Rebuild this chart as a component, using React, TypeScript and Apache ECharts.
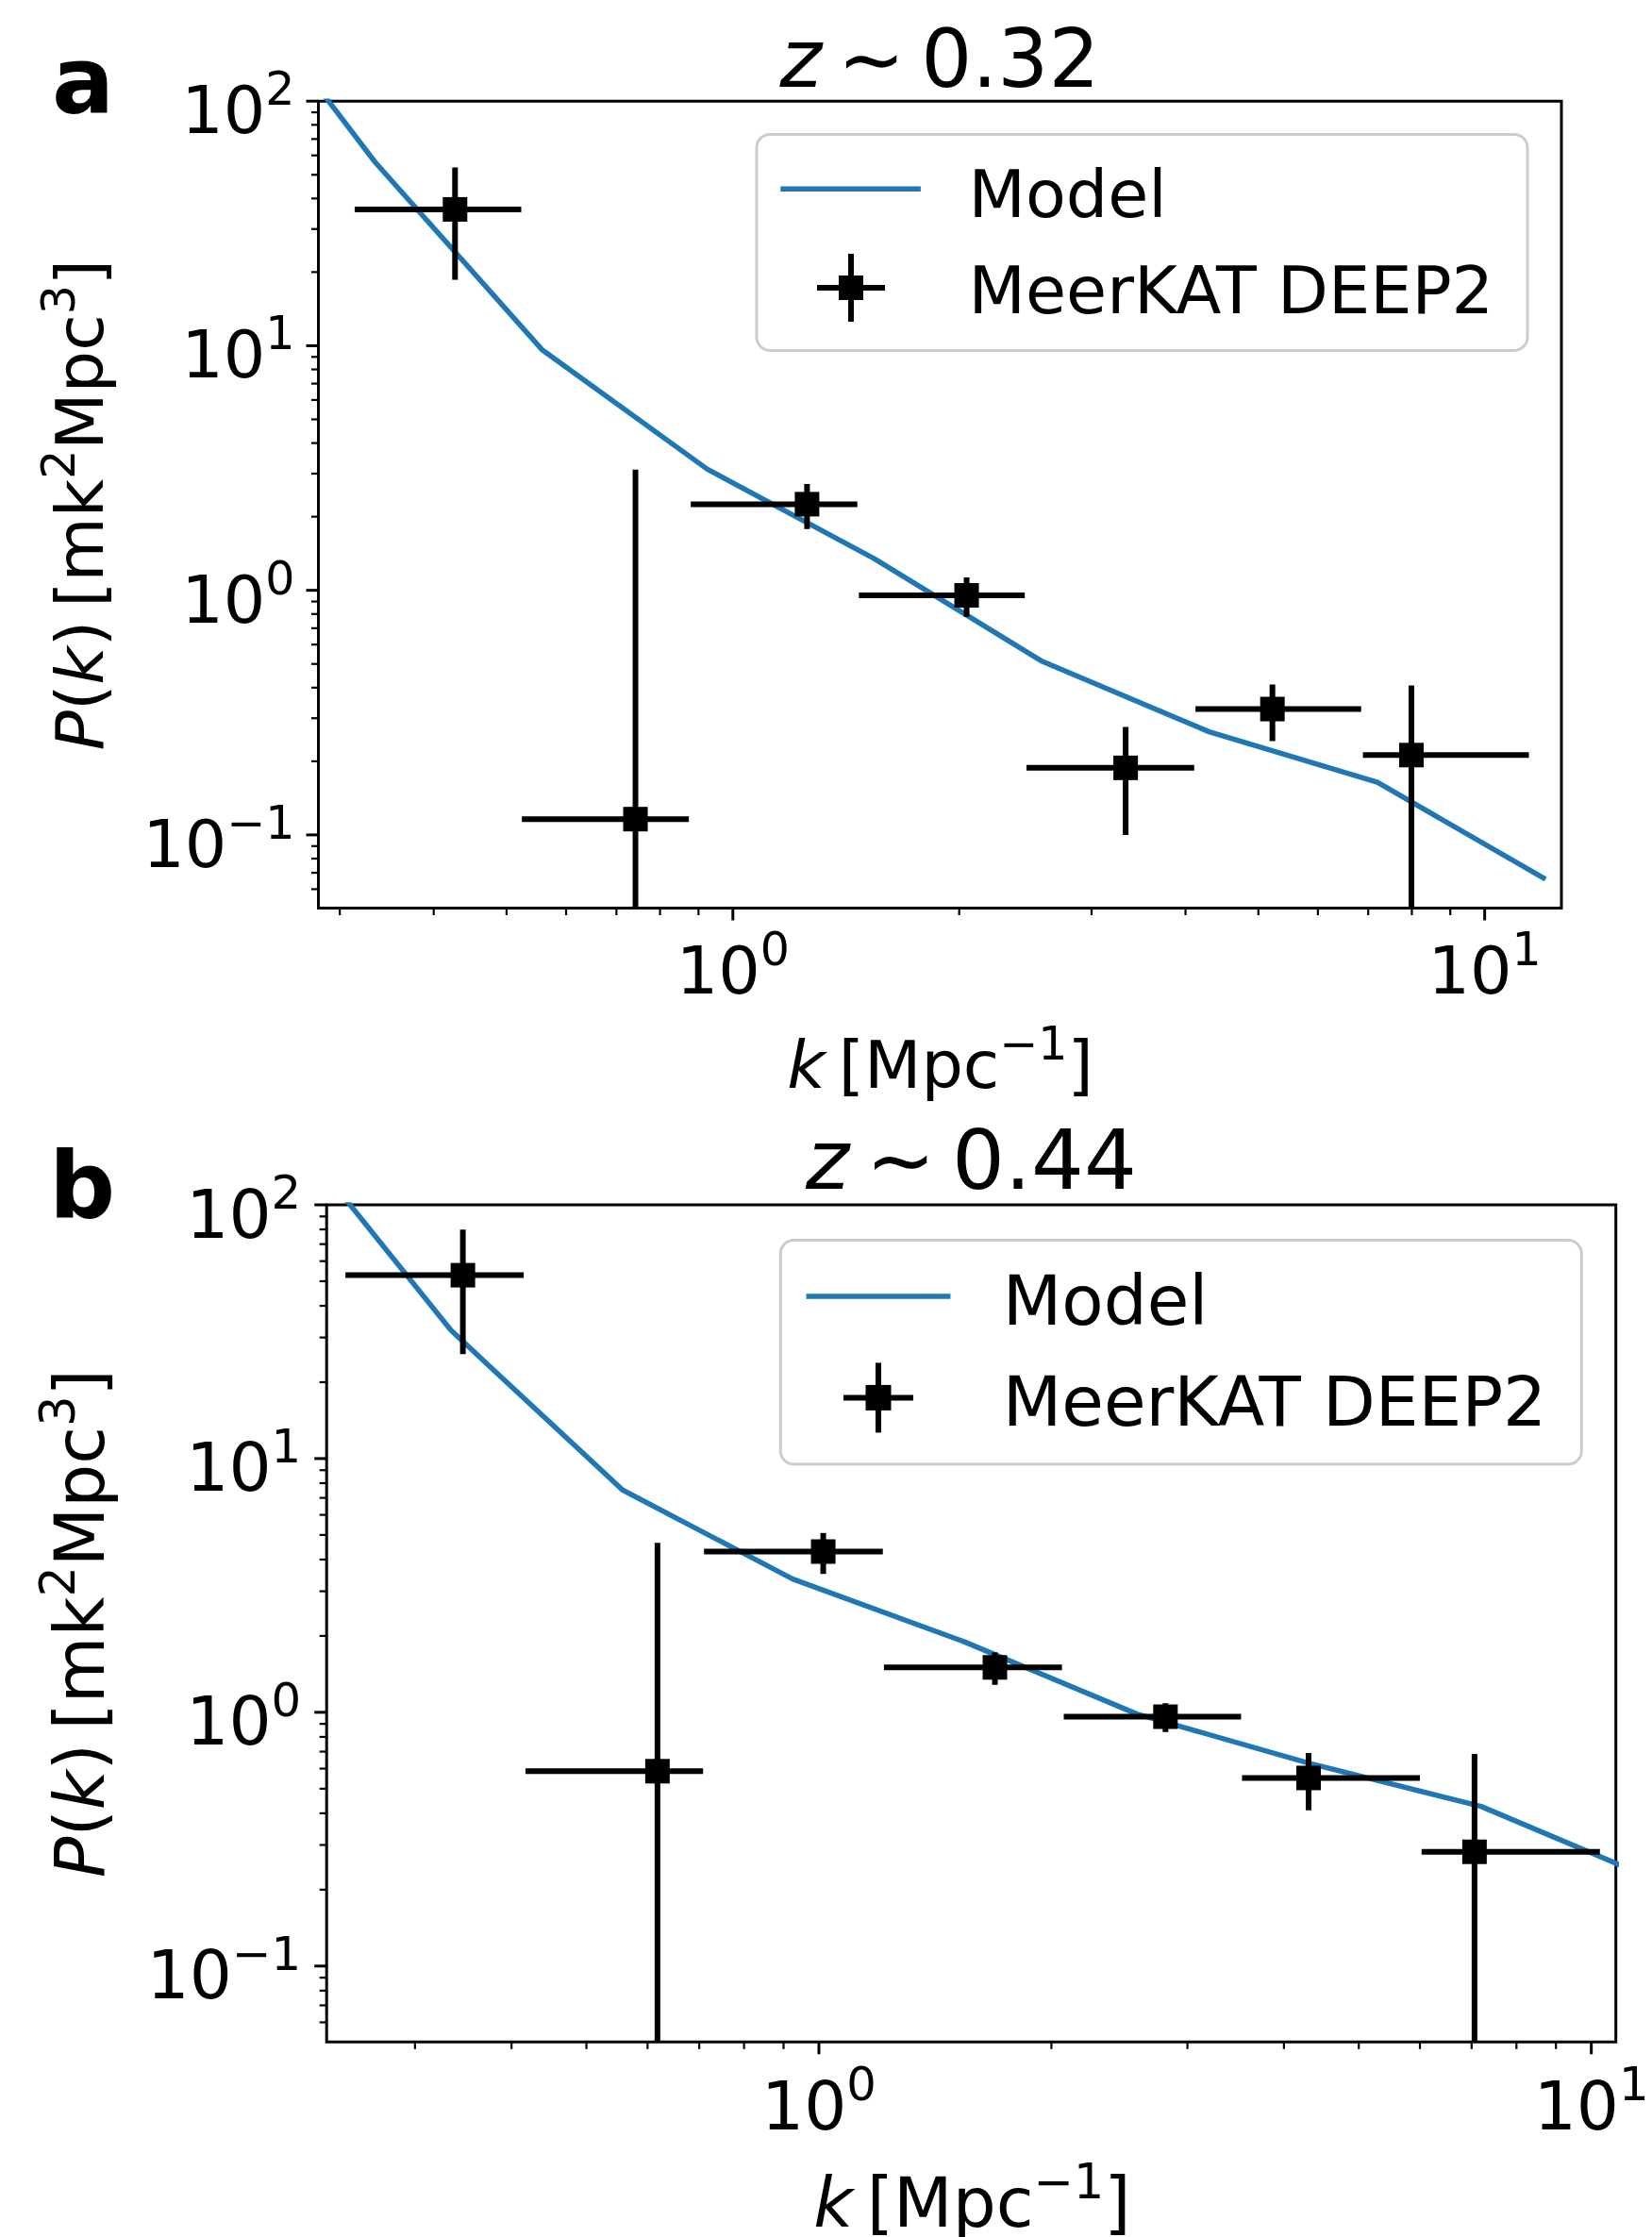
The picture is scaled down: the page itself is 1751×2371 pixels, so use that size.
import React, { useEffect, useRef } from "react";
import * as echarts from "echarts";

const FONT = "DejaVu Sans";
const BLUE = "#1f77b4";

// ---------- Panel a : z ~ 0.32 ----------
const kA = [0.427, 0.742, 1.255, 2.046, 3.33, 5.22, 7.99];
const kLoA = [0.314, 0.524, 0.879, 1.471, 2.458, 4.124, 6.887];
const kHiA = [0.523, 0.874, 1.464, 2.445, 4.108, 6.85, 11.45];
const pA = [36.1, 0.116, 2.25, 0.954, 0.188, 0.327, 0.212];
const errA = [17.5, 3.0, 0.47, 0.175, 0.088, 0.085, 0.196];

// ---------- Panel b : z ~ 0.44 ----------
const kB = [0.346, 0.618, 1.013, 1.69, 2.81, 4.305, 7.06];
const kLoB = [0.2438, 0.417, 0.71, 1.214, 2.075, 3.53, 6.03];
const kHiB = [0.4148, 0.708, 1.21, 2.064, 3.52, 6.0, 10.26];
const pB = [52.8, 0.586, 4.3, 1.503, 0.961, 0.551, 0.282];
const errB = [27, 4.07, 0.79, 0.22, 0.125, 0.14, 0.404];

// ---------- Model curves ----------
const modelK = [0.2, 0.334, 0.557, 0.925, 1.54, 2.58, 4.3, 7.2, 12.05];
const modelA = [447, 56.5, 9.65, 3.125, 1.35, 0.512, 0.264, 0.164, 0.0659];
const modelB = [223, 32.0, 7.52, 3.35, 1.9, 0.985, 0.631, 0.4257, 0.22];

// ---------- Axis ranges / ticks ----------
const xRangeA = [0.281, 12.65];
const xRangeB = [0.2305, 10.76];
const yRange = [0.0502, 100];
const DECADES = [-2, -1, 0, 1, 2];
const MINOR_MANTISSAS = [2, 3, 4, 5, 6, 7, 8, 9];

const TITLE_A = "0.32";
const TITLE_B = "0.44";
const LEGEND_MODEL = "Model";
const LEGEND_DATA = "MeerKAT DEEP2";

function tickData(xr: number[], yr: number[]) {
  const out: number[][] = [];
  const inR = (v: number, r: number[]) => v >= r[0] * 0.9999 && v <= r[1] * 1.0001;
  for (const d of DECADES) {
    const major = Math.pow(10, d);
    if (inR(major, xr)) out.push([major, yr[0], 0, 1]);
    if (inR(major, yr)) out.push([xr[0], major, 1, 1]);
    for (const m of MINOR_MANTISSAS) {
      const v = m * major;
      if (inR(v, xr)) out.push([v, yr[0], 0, 0]);
      if (inR(v, yr)) out.push([xr[0], v, 1, 0]);
    }
  }
  return out;
}

function tickLabel(v: number) {
  const e = Math.log10(v);
  const r = Math.round(e);
  if (Math.abs(e - r) > 1e-6) return "";
  const ex = r < 0 ? "\u2212" + -r : String(r);
  return `{n|10}{s|${ex}}`;
}

function labelRich(fs: number) {
  return {
    n: { fontSize: fs, fontFamily: FONT, color: "#000" },
    s: { fontSize: fs * 0.7, fontFamily: FONT, color: "#000", padding: [0, 0, fs * 0.643, 0] },
  };
}

function gRich(fs: number) {
  return {
    n: { fontSize: fs, fontFamily: FONT },
    i: { fontSize: fs, fontFamily: FONT, fontStyle: "italic" },
    s: { fontSize: fs * 0.7, fontFamily: FONT, padding: [0, 0, fs * 0.643, 0] },
  };
}

function gText(
  text: string,
  x: number,
  y: number,
  fs: number,
  align: string,
  extra: any = {},
  styleExtra: any = {}
) {
  return {
    type: "text",
    x,
    y,
    z: 100,
    ...extra,
    style: {
      text,
      fill: "#000",
      fontSize: fs,
      fontFamily: FONT,
      align,
      textAlign: align,
      verticalAlign: "middle",
      textVerticalAlign: "middle",
      rich: gRich(fs),
      ...styleExtra,
    },
  };
}

// middle-line y from a baseline
const mid = (baseline: number, fs: number) => baseline - 0.297 * fs;

function legendGroup(
  box: number[],
  lineX: number[],
  lineY: number,
  mk: number[],
  half: number,
  sq: number,
  textX: number,
  textY1: number,
  textY2: number,
  fs: number
) {
  return [
    {
      type: "rect",
      z: 90,
      shape: { x: box[0], y: box[1], width: box[2], height: box[3], r: 14 },
      style: { fill: "rgba(255,255,255,0.8)", stroke: "#cccccc", lineWidth: 3 },
    },
    {
      type: "line",
      z: 95,
      shape: { x1: lineX[0], y1: lineY, x2: lineX[1], y2: lineY },
      style: { stroke: BLUE, lineWidth: 5.5 },
    },
    {
      type: "line",
      z: 95,
      shape: { x1: mk[0] - half, y1: mk[1], x2: mk[0] + half, y2: mk[1] },
      style: { stroke: "#000", lineWidth: 6 },
    },
    {
      type: "line",
      z: 95,
      shape: { x1: mk[0], y1: mk[1] - half, x2: mk[0], y2: mk[1] + half },
      style: { stroke: "#000", lineWidth: 6 },
    },
    {
      type: "rect",
      z: 96,
      shape: { x: mk[0] - sq / 2, y: mk[1] - sq / 2, width: sq, height: sq },
      style: { fill: "#000" },
    },
    gText(LEGEND_MODEL, textX, textY1, fs, "left"),
    gText(LEGEND_DATA, textX, textY2, fs, "left"),
  ];
}

function panelSeries(
  idx: number,
  k: number[],
  kLo: number[],
  kHi: number[],
  p: number[],
  err: number[],
  model: number[],
  xr: number[]
) {
  return [
    {
      type: "line",
      xAxisIndex: idx,
      yAxisIndex: idx,
      data: modelK.map((kk, i) => [kk, model[i]]),
      showSymbol: false,
      symbol: "none",
      clip: true,
      lineStyle: { color: BLUE, width: 5.5 },
      z: 2,
    },
    {
      type: "custom",
      xAxisIndex: idx,
      yAxisIndex: idx,
      clip: true,
      z: 3,
      data: k.map((kk, i) => [kk, p[i], kLo[i], kHi[i], err[i]]),
      encode: { x: 0, y: 1 },
      renderItem: (params: any, api: any) => {
        const cs = params.coordSys;
        const kk = api.value(0);
        const pp = api.value(1);
        const lo = api.value(2);
        const hi = api.value(3);
        const e = api.value(4);
        const left = api.coord([lo, pp]);
        const right = api.coord([hi, pp]);
        const top = api.coord([kk, pp + e]);
        const bottomEdge = cs.y + cs.height;
        const lowY = pp - e > 0 ? Math.min(api.coord([kk, pp - e])[1], bottomEdge) : bottomEdge;
        const st = { stroke: "#000", lineWidth: 6 };
        return {
          type: "group",
          children: [
            { type: "line", shape: { x1: left[0], y1: left[1], x2: right[0], y2: right[1] }, style: st },
            { type: "line", shape: { x1: top[0], y1: top[1], x2: top[0], y2: lowY }, style: st },
          ],
        };
      },
    },
    {
      type: "scatter",
      xAxisIndex: idx,
      yAxisIndex: idx,
      data: k.map((kk, i) => [kk, p[i]]),
      symbol: "rect",
      symbolSize: 26,
      itemStyle: { color: "#000", opacity: 1 },
      z: 4,
    },
    {
      type: "custom",
      xAxisIndex: idx,
      yAxisIndex: idx,
      clip: false,
      z: 5,
      data: tickData(xr, yRange),
      encode: { x: 0, y: 1 },
      renderItem: (params: any, api: any) => {
        const cs = params.coordSys;
        const kind = api.value(2);
        const major = api.value(3);
        const len = major ? 13 : 7.5;
        const w = major ? 3 : 2.2;
        const pt = api.coord([api.value(0), api.value(1)]);
        const st = { stroke: "#000", lineWidth: w };
        if (kind === 0) {
          const y0 = cs.y + cs.height;
          return { type: "line", shape: { x1: pt[0], y1: y0, x2: pt[0], y2: y0 + len }, style: st };
        }
        return { type: "line", shape: { x1: cs.x, y1: pt[1], x2: cs.x - len, y2: pt[1] }, style: st };
      },
    },
  ];
}

function xAxisOpt(idx: number, xr: number[], margin: number, fs: number) {
  return {
    type: "log",
    logBase: 10,
    gridIndex: idx,
    min: xr[0],
    max: xr[1],
    axisLine: { show: false },
    axisTick: { show: false },
    minorTick: { show: false },
    splitLine: { show: false },
    axisLabel: {
      show: true,
      margin,
      formatter: tickLabel,
      rich: labelRich(fs),
      hideOverlap: false,
    },
  };
}

function yAxisOpt(idx: number, margin: number, fs: number) {
  return {
    type: "log",
    logBase: 10,
    gridIndex: idx,
    min: yRange[0],
    max: yRange[1],
    axisLine: { show: false },
    axisTick: { show: false },
    minorTick: { show: false },
    splitLine: { show: false },
    axisLabel: {
      show: true,
      margin,
      formatter: tickLabel,
      rich: labelRich(fs),
      padding: [20, 0, 0, 0],
      hideOverlap: false,
    },
  };
}

export default function App() {
  const ref = useRef<HTMLDivElement>(null);
  useEffect(() => {
    document.body.style.margin = "0";
    if (!ref.current) return;
    const chart = echarts.init(ref.current, undefined, { renderer: "svg" });

    const gridA = { left: 337.5, top: 107.2, width: 1317.5, height: 855.3 };
    const gridB = { left: 346.2, top: 1277, width: 1366.5, height: 887.3 };

    const graphics: any[] = [
      // panel letters
      gText("a", 55, mid(115, 98), 98, "left", {}, { fontWeight: "bold" }),
      gText("b", 52, mid(1286, 98), 98, "left", {}, { fontWeight: "bold" }),
      // titles
      gText(`{i|z}{n|\u2009\u223C\u2009${TITLE_A}}`, 996, mid(87.3, 85), 85, "center"),
      gText(`{i|z}{n|\u2009\u223C\u2009${TITLE_B}}`, 1029.5, mid(1255.2, 88), 88, "center"),
      // x labels
      gText("{i|k}{n|\u2009[Mpc}{s|\u22121}{n|]}", 996.5, mid(1150, 70), 70, "center"),
      gText("{i|k}{n|\u2009[Mpc}{s|\u22121}{n|]}", 1030.5, mid(2357, 72.5), 72.5, "center"),
      // y labels (rotated)
      gText(
        "{i|P}{n|(}{i|k}{n|)\u2009[mk}{s|2}{n|Mpc}{s|3}{n|]}",
        106.2 - 0.297 * 70,
        535,
        70,
        "center",
        { rotation: Math.PI / 2 }
      ),
      gText(
        "{i|P}{n|(}{i|k}{n|)\u2009[mk}{s|2}{n|Mpc}{s|3}{n|]}",
        106.2 - 0.297 * 72.5,
        1720.7,
        72.5,
        "center",
        { rotation: Math.PI / 2 }
      ),
      // legends
      ...legendGroup(
        [802, 142.4, 817, 229],
        [827.3, 975.9],
        200.2,
        [902, 305],
        36,
        26,
        1026.6,
        mid(226.4, 70),
        mid(329.1, 70),
        70
      ),
      ...legendGroup(
        [827.3, 1314.6, 849, 237.2],
        [854.6, 1007.4],
        1373.9,
        [931, 1481.4],
        37,
        27,
        1062.8,
        mid(1400.3, 72.5),
        mid(1507.4, 72.5),
        72.5
      ),
    ];

    const option: any = {
      animation: false,
      backgroundColor: "#ffffff",
      textStyle: { fontFamily: FONT },
      grid: [
        { ...gridA, show: true, borderColor: "#000", borderWidth: 3, backgroundColor: "transparent", containLabel: false, outerBoundsMode: "none" },
        { ...gridB, show: true, borderColor: "#000", borderWidth: 3, backgroundColor: "transparent", containLabel: false, outerBoundsMode: "none" },
      ],
      xAxis: [xAxisOpt(0, xRangeA, 19, 70), xAxisOpt(1, xRangeB, 20, 71)],
      yAxis: [yAxisOpt(0, 25, 70), yAxisOpt(1, 27, 71)],
      series: [
        ...panelSeries(0, kA, kLoA, kHiA, pA, errA, modelA, xRangeA),
        ...panelSeries(1, kB, kLoB, kHiB, pB, errB, modelB, xRangeB),
      ],
      graphic: { elements: graphics },
    };
    chart.setOption(option);
    return () => chart.dispose();
  }, []);
  return <div ref={ref} style={{ width: 1751, height: 2371 }} />;
}
